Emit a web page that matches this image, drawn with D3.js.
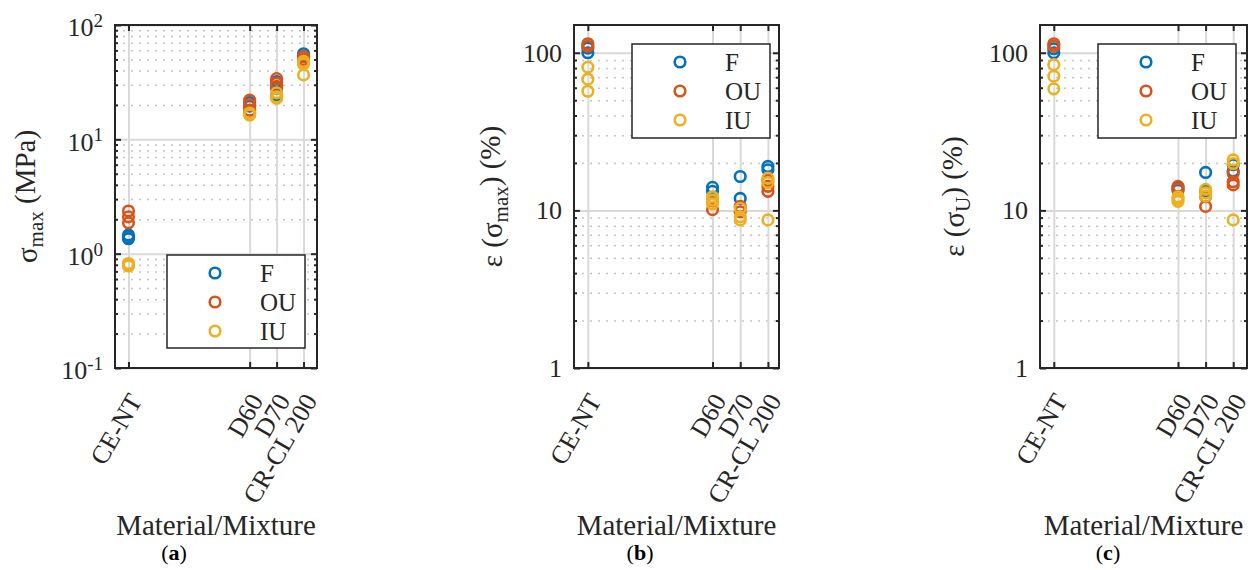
<!DOCTYPE html>
<html>
<head>
<meta charset="utf-8">
<script src="https://cdn.jsdelivr.net/npm/d3@7"></script>
<style>
  body { margin: 0; background: #fff; }
  svg, svg text { font-family: "Liberation Serif", "DejaVu Serif", serif; }
  .frame { fill: none; stroke: #262626; stroke-width: 2; }
  .grid line { stroke: #d9d9d9; stroke-width: 2; }
  .minor line { stroke: #c4c4c4; stroke-width: 1.5; stroke-dasharray: 2,6; }
  .axis path { display: none; }
  .axis line { stroke: #262626; stroke-width: 2; }
  .axis text { font-size: 26px; fill: #262626; font-family: "Liberation Serif", serif; }
</style>
</head>
<body>
<svg width="1252" height="570"></svg>
<script>
var categories = ["CE-NT", "D60", "D70", "CR-CL 200"];
var categoryValue = [0, 4.5, 5.5, 6.5];
var seriesNames = ["F", "OU", "IU"];
var seriesColors = ["#0072BD", "#D95319", "#EDB120"];

// sigma max (MPa), one list per category
var sigmaMaxF  = [[1.46, 1.4, 1.35], [21, 19.5, 17], [32, 28, 24.5], [56, 53]];
var sigmaMaxOU = [[2.36, 2.1, 1.86], [22, 20, 18], [34, 31, 29], [53, 50, 48]];
var sigmaMaxIU = [[0.82, 0.8, 0.78], [16.3, 17], [25.5, 23.5, 22.8], [48, 45.5, 36.6]];

// strain at sigma max (%)
var epsMaxF  = [[107, 100], [14.0, 13.2], [16.4, 11.9], [19.0, 18.1]];
var epsMaxOU = [[114, 110], [11.5, 10.1], [10.6, 9.8], [15.5, 14.2, 13.2]];
var epsMaxIU = [[81, 68, 57], [12.2, 11.6, 11.0], [10.3, 9.1, 8.7], [16.0, 15.0, 8.7]];

// strain at sigma U (%)
var epsUF  = [[106, 100], [14.0, 13.4], [17.4, 13.2], [19.5, 17.8]];
var epsUOU = [[114, 110], [14.2, 13.6], [12.2, 10.6], [17.2, 15.2, 14.5]];
var epsUIU = [[84, 71, 59], [12.2, 11.8, 11.4], [13.6, 12.9, 12.3], [20.9, 19.8, 8.7]];

var yTicksA = [0.1, 1, 10, 100];
var yTicksB = [1, 10, 100];
var minorA = [0.2, 0.3, 0.4, 0.5, 0.6, 0.7, 0.8, 0.9, 2, 3, 4, 5, 6, 7, 8, 9, 20, 30, 40, 50, 60, 70, 80, 90];
var minorB = [2, 3, 4, 5, 6, 7, 8, 9, 20, 30, 40, 50, 60, 70, 80, 90];

var svg = d3.select("svg");
var top0 = 25, bottom0 = 368;

var panels = [
  { left: 115, right: 317, xMax: 7, yDomain: [0.1, 100], ticks: yTicksA, minor: minorA, sup: true,
    series: [sigmaMaxF, sigmaMaxOU, sigmaMaxIU],
    label: ["σ", "max", " (MPa)"], labelX: 37,
    legend: { x: 167, y: 255, w: 138, h: 93 }, tag: "a", tagX: 174 },
  { left: 574, right: 779, xMax: 6.9, yDomain: [1, 150], ticks: yTicksB, minor: minorB, sup: false,
    series: [epsMaxF, epsMaxOU, epsMaxIU],
    label: ["ε (σ", "max", ") (%)"], labelX: 502,
    legend: { x: 632, y: 44, w: 138, h: 94 }, tag: "b", tagX: 640 },
  { left: 1040, right: 1247, xMax: 7, yDomain: [1, 150], ticks: yTicksB, minor: minorB, sup: false,
    series: [epsUF, epsUOU, epsUIU],
    label: ["ε (σ", "U", ") (%)"], labelX: 964,
    legend: { x: 1098, y: 44, w: 138, h: 94 }, tag: "c", tagX: 1108 }
];

panels.forEach(drawPanel);

function drawPanel(p) {
  var w = p.right - p.left, h = bottom0 - top0;
  var x = d3.scaleLinear().domain([-0.5, p.xMax]).range([0, w]);
  var y = d3.scaleLog().domain(p.yDomain).range([h, 0]);

  var g = svg.append("g").attr("transform", "translate(" + p.left + "," + top0 + ")");

  // minor grid
  g.append("g").attr("class", "minor")
      .call(d3.axisLeft(y).tickValues(p.minor).tickSize(-w).tickFormat(""))
      .select(".domain").remove();

  // major grid
  g.append("g").attr("class", "grid")
      .call(d3.axisLeft(y).tickValues(p.ticks).tickSize(-w).tickFormat(""))
      .select(".domain").remove();
  g.append("g").attr("class", "grid")
      .call(d3.axisBottom(x).tickValues(categoryValue).tickSize(h).tickFormat(""))
      .select(".domain").remove();

  // points
  p.series.forEach(function(s, si) {
    var pts = [];
    s.forEach(function(vals, ci) {
      vals.forEach(function(v) { pts.push({ x: categoryValue[ci], v: v }); });
    });
    g.append("g").selectAll("circle")
      .data(pts)
      .join("circle")
        .attr("cx", function(d) { return x(d.x); })
        .attr("cy", function(d) { return y(d.v); })
        .attr("r", 5.3)
        .attr("fill", "none")
        .attr("stroke", seriesColors[si])
        .attr("stroke-width", 2.6);
  });

  // y axis left with labels
  var yl = g.append("g").attr("class", "axis")
      .call(d3.axisLeft(y).tickValues(p.ticks).tickSize(-6).tickPadding(12)
        .tickFormat(p.sup ? "" : d3.format("d")));
  if (p.sup) {
    yl.selectAll(".tick text").each(function(d) {
      var t = d3.select(this).text("");
      t.append("tspan").text("10");
      t.append("tspan").attr("dy", "-0.5em").style("font-size", "19px").text(Math.round(Math.log10(d)));
    }).attr("dy", "0.42em");
  }
  g.append("g").attr("class", "axis")
      .call(d3.axisLeft(y).tickValues(p.minor).tickSize(-3).tickFormat(""));
  g.append("g").attr("class", "axis").attr("transform", "translate(" + w + ",0)")
      .call(d3.axisRight(y).tickValues(p.ticks).tickSize(-6).tickFormat(""));
  g.append("g").attr("class", "axis").attr("transform", "translate(" + w + ",0)")
      .call(d3.axisRight(y).tickValues(p.minor).tickSize(-3).tickFormat(""));

  // x axes
  var xb = g.append("g").attr("class", "axis").attr("transform", "translate(0," + h + ")")
      .call(d3.axisBottom(x).tickValues(categoryValue).tickSize(-6)
        .tickFormat(function(d, i) { return categories[i]; }));
  xb.selectAll(".tick text")
      .attr("x", 0).attr("y", 0).attr("dy", "0.35em")
      .attr("text-anchor", "end")
      .attr("transform", "translate(6,28) rotate(-60)");
  g.append("g").attr("class", "axis")
      .call(d3.axisTop(x).tickValues(categoryValue).tickSize(-6).tickFormat(""));

  g.append("rect").attr("class", "frame").attr("width", w).attr("height", h);

  // legend
  var L = p.legend;
  var lg = svg.append("g").attr("transform", "translate(" + L.x + "," + L.y + ")");
  lg.append("rect").attr("width", L.w).attr("height", L.h)
    .attr("fill", "#fff").attr("stroke", "#262626").attr("stroke-width", 1.5);
  seriesNames.forEach(function(n, i) {
    var cy = 18 + i * 29;
    lg.append("circle").attr("cx", 48).attr("cy", cy).attr("r", 5.3)
      .attr("fill", "none").attr("stroke", seriesColors[i]).attr("stroke-width", 2.6);
    lg.append("text").attr("x", 93).attr("y", cy).attr("dy", "0.35em")
      .style("font-size", "25px").attr("fill", "#262626").text(n);
  });

  // y label
  var yt = svg.append("text")
      .attr("transform", "translate(" + p.labelX + "," + (top0 + h / 2) + ") rotate(-90)")
      .attr("text-anchor", "middle")
      .style("font-size", "29px").attr("fill", "#262626");
  yt.append("tspan").text(p.label[0]);
  yt.append("tspan").attr("dy", "0.3em").style("font-size", "21px").text(p.label[1]);
  yt.append("tspan").attr("dy", "-0.3em").text(p.label[2]);

  // x label
  svg.append("text")
      .attr("x", p.left + w / 2).attr("y", 535)
      .attr("text-anchor", "middle")
      .style("font-size", "29px").attr("fill", "#262626")
      .text("Material/Mixture");

  var tg = svg.append("text").attr("x", p.tagX).attr("y", 560)
      .attr("text-anchor", "middle").style("font-size", "22px").attr("fill", "#000");
  tg.append("tspan").text("(");
  tg.append("tspan").style("font-weight", "bold").text(p.tag);
  tg.append("tspan").text(")");
}
</script>
</body>
</html>
